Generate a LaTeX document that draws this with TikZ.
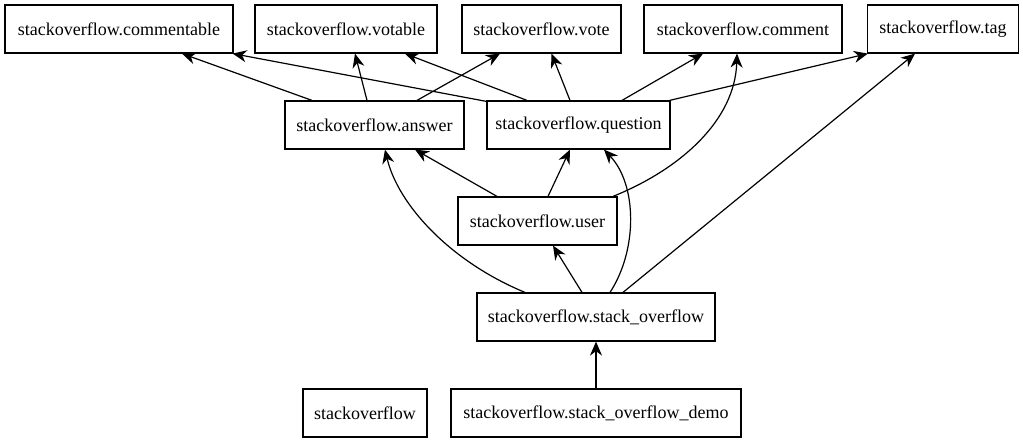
\documentclass[tikz,border=0pt]{standalone}
\usepackage{fontspec}
\newfontfamily\gvfont{LiberationSerif-Regular.ttf}
\usetikzlibrary{arrows.meta}
\begin{document}
\begin{tikzpicture}[x=1bp,y=-1bp,
 box/.style={draw, line width=1.2bp, inner sep=0pt, minimum height=48bp, font=\gvfont\fontsize{18bp}{21bp}\selectfont},
 dep/.style={line width=1.2bp, -{Stealth[length=14bp,width=12bp,inset=4.5bp]}}]
\useasboundingbox (0,0) rectangle (1023,443);
% top row
\node[box, minimum width=228bp] (commentable) at (119,29) {stackoverflow.commentable};
\node[box, minimum width=182bp] (votable) at (346,29) {stackoverflow.votable};
\node[box, minimum width=159bp] (vote) at (541.5,29) {stackoverflow.vote};
\node[box, minimum width=198bp] (comment) at (743,29) {stackoverflow.comment};
\node[box, minimum width=151bp] (tag) at (943,29) {stackoverflow.tag};
% second row
\node[box, minimum width=179bp] (answer) at (374.5,125) {stackoverflow.answer};
\node[box, minimum width=183bp] (question) at (578.5,125) {stackoverflow.question};
% third
\node[box, minimum width=159bp] (user) at (537.5,221) {stackoverflow.user};
% fourth
\node[box, minimum width=238bp] (stack) at (596,317) {stackoverflow.stack\_overflow};
% bottom
\node[box, minimum width=124bp] (pkg) at (365,413) {stackoverflow};
\node[box, minimum width=290bp] (demo) at (596,413) {stackoverflow.stack\_overflow\_demo};
% edges from answer
\draw[dep] ([xshift=-62.5bp]answer.north) -- ([xshift=63bp]commentable.south);
\draw[dep] ([xshift=-7.5bp]answer.north) -- ([xshift=9bp]votable.south);
\draw[dep] ([xshift=42.5bp]answer.north) -- ([xshift=-41.5bp]vote.south);
% edges from question
\draw[dep] ([yshift=-1bp]question.north west) -- ([xshift=-1bp]commentable.south east);
\draw[dep] ([xshift=-51.5bp]question.north) -- ([xshift=59bp]votable.south);
\draw[dep] ([xshift=-8.5bp]question.north) -- ([xshift=10bp]vote.south);
\draw[dep] ([xshift=43.5bp]question.north) -- ([xshift=-40bp]comment.south);
\draw[dep] ([xshift=-1bp]question.north east) -- ([xshift=1bp]tag.south west);
% edges from user
\draw[dep] ([xshift=-40.5bp]user.north) -- ([xshift=40.5bp]answer.south);
\draw[dep] ([xshift=10.5bp]user.north) -- ([xshift=-8.5bp]question.south);
\draw[dep] ([xshift=75.5bp]user.north) .. controls +(67,-27) and +(-2,67) .. ([xshift=-6bp]comment.south);
% edges from stack_overflow
\draw[dep] ([xshift=-71bp]stack.north) .. controls +(-75,-31) and +(13,55) .. ([xshift=10.5bp]answer.south);
\draw[dep] ([xshift=-14bp]stack.north) -- ([xshift=15.5bp]user.south);
\draw[dep] ([xshift=14bp]stack.north) .. controls +(28,-43) and +(33,35) .. ([xshift=25.5bp]question.south);
\draw[dep] ([xshift=27bp]stack.north) -- ([xshift=-28bp]tag.south);
% demo
\draw[dep] (demo.north) -- (stack.south);
\end{tikzpicture}
\end{document}
